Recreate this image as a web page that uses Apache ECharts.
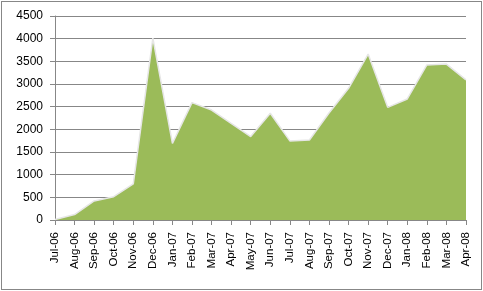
<!DOCTYPE html>
<html><head><meta charset="utf-8">
<script src="https://cdn.jsdelivr.net/npm/echarts@6/dist/echarts.min.js"></script>
<style>html,body{margin:0;padding:0;background:#fff}#c{width:483px;height:291px;position:relative}#b{position:absolute;left:1px;top:1px;width:479px;height:287px;border:1px solid #878787;pointer-events:none;box-sizing:content-box}</style>
</head><body><div id="c"></div><div id="b"></div>
<script>
const categories = ["Jul-06","Aug-06","Sep-06","Oct-06","Nov-06","Dec-06","Jan-07","Feb-07","Mar-07","Apr-07","May-07","Jun-07","Jul-07","Aug-07","Sep-07","Oct-07","Nov-07","Dec-07","Jan-08","Feb-08","Mar-08","Apr-08"];
const values = [10,120,420,515,795,4010,1690,2590,2425,2130,1840,2355,1745,1765,2360,2905,3660,2485,2670,3420,3440,3090];
const chart = echarts.init(document.getElementById('c'), null, {renderer:'canvas'});
const font = "'Liberation Sans', Arial, sans-serif";
chart.setOption({
  animation:false,
  grid:{left:55,right:17,top:16,bottom:71},
  xAxis:{type:'category',data:categories,boundaryGap:false,
    axisLine:{lineStyle:{color:'#878787'}},
    axisTick:{show:true,length:5,lineStyle:{color:'#878787'}},
    axisLabel:{rotate:90,interval:0,color:'#000',fontSize:11.5,fontFamily:font,margin:12}},
  yAxis:{type:'value',min:0,max:4500,interval:500,
    axisLine:{show:true,lineStyle:{color:'#878787'}},
    axisTick:{show:true,length:5,lineStyle:{color:'#878787'}},
    splitLine:{lineStyle:{color:'#878787'}},
    axisLabel:{color:'#000',fontSize:12,fontFamily:font,margin:12,formatter:v=>String(v)}},
  series:[{type:'line',data:values,symbol:'none',
    lineStyle:{color:'#e6e6e6',width:1.5},
    areaStyle:{color:'#9BBB59',opacity:1}}]
});
</script></body></html>
